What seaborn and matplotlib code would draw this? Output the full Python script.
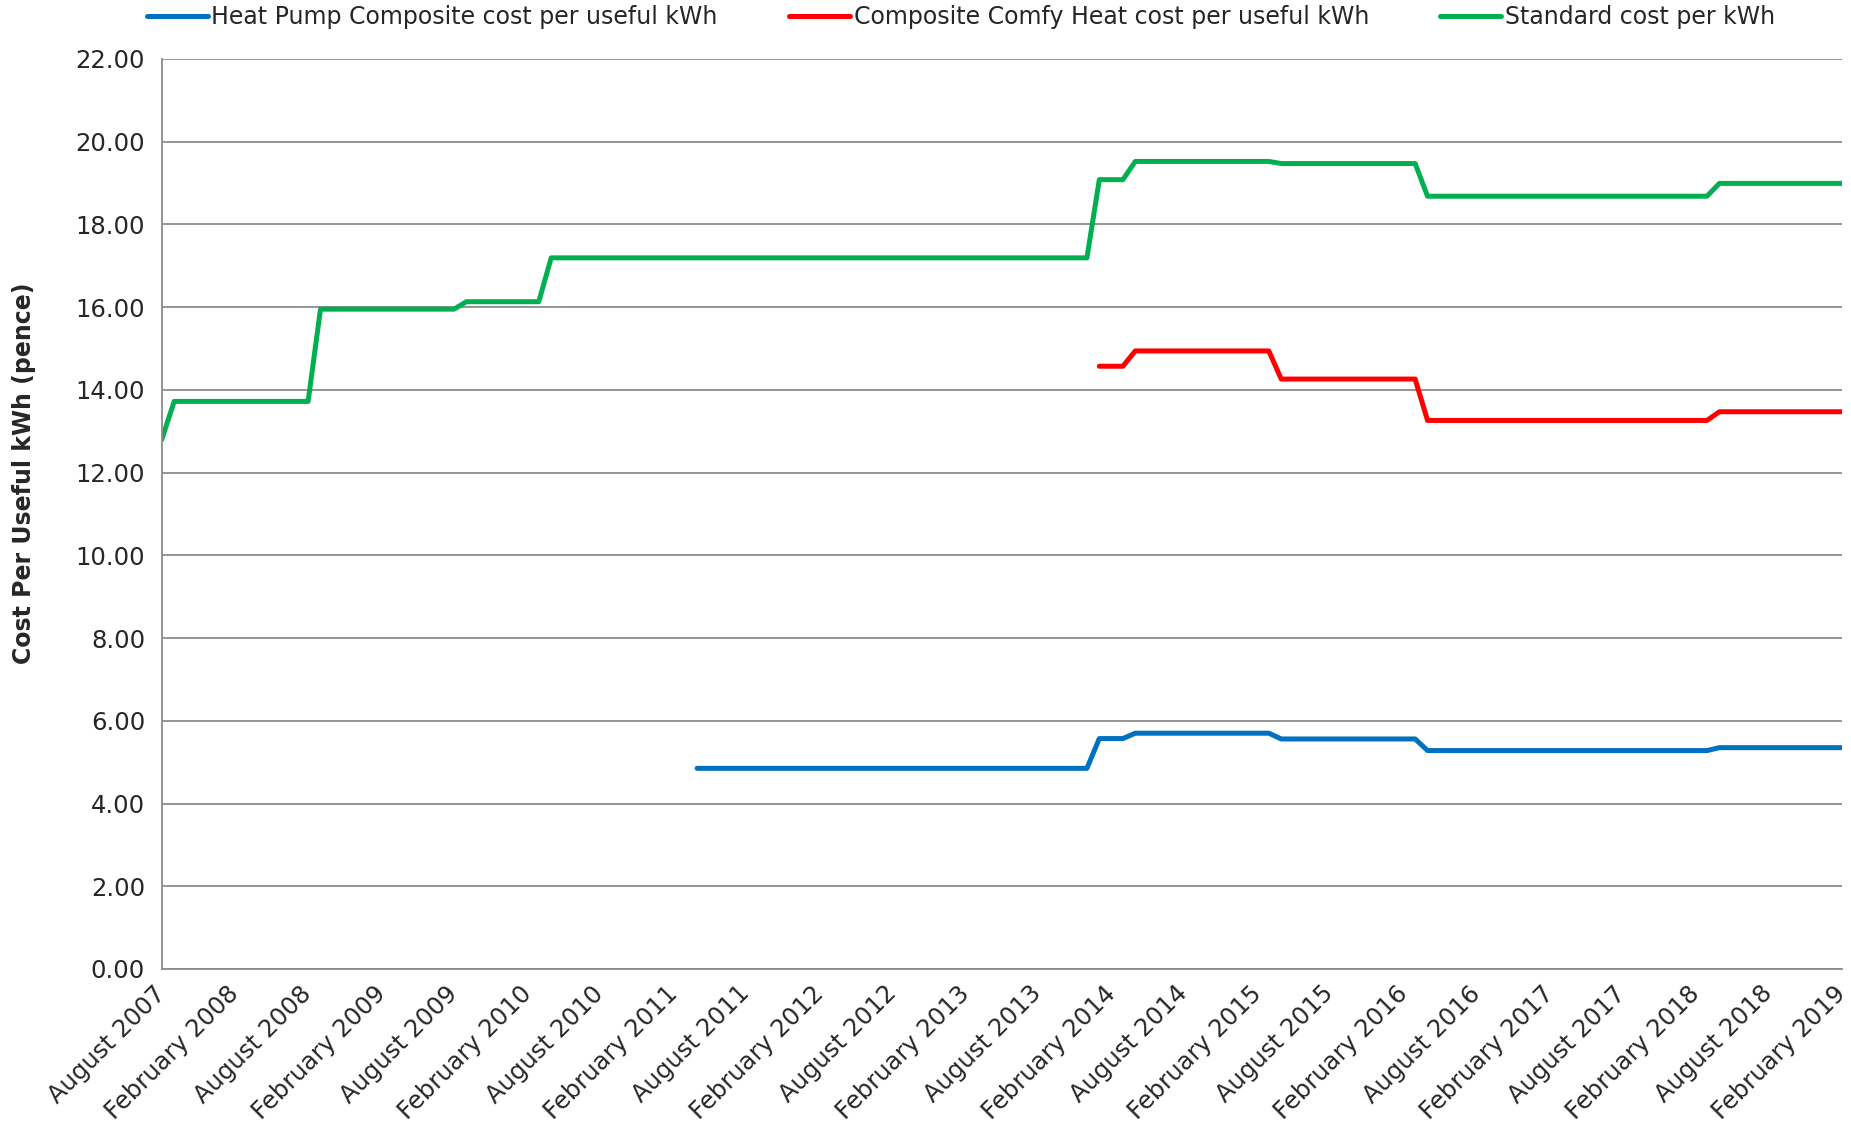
import numpy as np
import pandas as pd
import matplotlib
matplotlib.use('Agg')
import matplotlib.pyplot as plt
import matplotlib.dates as mdates
import matplotlib.transforms as mtransforms
from matplotlib.ticker import FormatStrFormatter
import seaborn as sns

na = np.nan

# monthly points, August 2007 .. February 2019
months = pd.date_range('2007-08-01', '2019-02-01', freq='MS')

standard_cost = [
    12.80, 13.72, 13.72, 13.72, 13.72,                                               # 2007 Aug-Dec
    13.72, 13.72, 13.72, 13.72, 13.72, 13.72, 13.72, 13.72, 15.95, 15.95, 15.95, 15.95,  # 2008
    15.95, 15.95, 15.95, 15.95, 15.95, 15.95, 15.95, 15.95, 16.13, 16.13, 16.13, 16.13,  # 2009
    16.13, 16.13, 16.13, 17.19, 17.19, 17.19, 17.19, 17.19, 17.19, 17.19, 17.19, 17.19,  # 2010
    17.19, 17.19, 17.19, 17.19, 17.19, 17.19, 17.19, 17.19, 17.19, 17.19, 17.19, 17.19,  # 2011
    17.19, 17.19, 17.19, 17.19, 17.19, 17.19, 17.19, 17.19, 17.19, 17.19, 17.19, 17.19,  # 2012
    17.19, 17.19, 17.19, 17.19, 17.19, 17.19, 17.19, 17.19, 17.19, 17.19, 17.19, 17.19,  # 2013
    19.08, 19.08, 19.08, 19.52, 19.52, 19.52, 19.52, 19.52, 19.52, 19.52, 19.52, 19.52,  # 2014
    19.52, 19.52, 19.52, 19.47, 19.47, 19.47, 19.47, 19.47, 19.47, 19.47, 19.47, 19.47,  # 2015
    19.47, 19.47, 19.47, 18.68, 18.68, 18.68, 18.68, 18.68, 18.68, 18.68, 18.68, 18.68,  # 2016
    18.68, 18.68, 18.68, 18.68, 18.68, 18.68, 18.68, 18.68, 18.68, 18.68, 18.68, 18.68,  # 2017
    18.68, 18.68, 18.68, 18.99, 18.99, 18.99, 18.99, 18.99, 18.99, 18.99, 18.99, 18.99,  # 2018
    18.99, 18.99,                                                                     # 2019 Jan-Feb
]

comfy_heat_cost = [
    na, na, na, na, na,
    na, na, na, na, na, na, na, na, na, na, na, na,
    na, na, na, na, na, na, na, na, na, na, na, na,
    na, na, na, na, na, na, na, na, na, na, na, na,
    na, na, na, na, na, na, na, na, na, na, na, na,
    na, na, na, na, na, na, na, na, na, na, na, na,
    na, na, na, na, na, na, na, na, na, na, na, na,
    14.57, 14.57, 14.57, 14.94, 14.94, 14.94, 14.94, 14.94, 14.94, 14.94, 14.94, 14.94,
    14.94, 14.94, 14.94, 14.26, 14.26, 14.26, 14.26, 14.26, 14.26, 14.26, 14.26, 14.26,
    14.26, 14.26, 14.26, 13.26, 13.26, 13.26, 13.26, 13.26, 13.26, 13.26, 13.26, 13.26,
    13.26, 13.26, 13.26, 13.26, 13.26, 13.26, 13.26, 13.26, 13.26, 13.26, 13.26, 13.26,
    13.26, 13.26, 13.26, 13.47, 13.47, 13.47, 13.47, 13.47, 13.47, 13.47, 13.47, 13.47,
    13.47, 13.47,
]

heat_pump_cost = [
    na, na, na, na, na,
    na, na, na, na, na, na, na, na, na, na, na, na,
    na, na, na, na, na, na, na, na, na, na, na, na,
    na, na, na, na, na, na, na, na, na, na, na, na,
    na, na, na, 4.85, 4.85, 4.85, 4.85, 4.85, 4.85, 4.85, 4.85, 4.85,
    4.85, 4.85, 4.85, 4.85, 4.85, 4.85, 4.85, 4.85, 4.85, 4.85, 4.85, 4.85,
    4.85, 4.85, 4.85, 4.85, 4.85, 4.85, 4.85, 4.85, 4.85, 4.85, 4.85, 4.85,
    5.57, 5.57, 5.57, 5.70, 5.70, 5.70, 5.70, 5.70, 5.70, 5.70, 5.70, 5.70,
    5.70, 5.70, 5.70, 5.56, 5.56, 5.56, 5.56, 5.56, 5.56, 5.56, 5.56, 5.56,
    5.56, 5.56, 5.56, 5.28, 5.28, 5.28, 5.28, 5.28, 5.28, 5.28, 5.28, 5.28,
    5.28, 5.28, 5.28, 5.28, 5.28, 5.28, 5.28, 5.28, 5.28, 5.28, 5.28, 5.28,
    5.28, 5.28, 5.28, 5.35, 5.35, 5.35, 5.35, 5.35, 5.35, 5.35, 5.35, 5.35,
    5.35, 5.35,
]

series_names = [
    'Heat Pump Composite cost per useful kWh',
    'Composite Comfy Heat cost per useful kWh',
    'Standard cost per kWh',
]
colors = ['#0070C0', '#FF0000', '#00B050']

# long form table for seaborn
df = pd.concat([
    pd.DataFrame({'month': months, 'cost': vals, 'series': name})
    for name, vals in zip(series_names, [heat_pump_cost, comfy_heat_cost, standard_cost])
])
df = df.dropna()

sns.set_style('white')
plt.rcParams['font.family'] = ['DejaVu Sans']

fig = plt.figure(figsize=(18.51, 11.32), dpi=100)
ax = fig.add_axes([0.0874, 0.144, 0.9076, 0.804])

sns.lineplot(data=df, x='month', y='cost', hue='series', hue_order=series_names,
             palette=colors, linewidth=3.6, ax=ax, legend=False)

grey = '#8c8c8c'
ax.set_xlim(months[0], months[-1])
ax.set_ylim(0, 22)
ax.set_yticks(np.arange(0, 23, 2))
ax.yaxis.set_major_formatter(FormatStrFormatter('%.2f'))
ax.grid(axis='y', color=grey, linewidth=1.3)
ax.set_axisbelow(True)

# labelled tick every six months, small tick every month
label_months = months[::6]
ax.set_xticks(label_months)
ax.set_xticklabels([m.strftime('%B %Y') for m in label_months],
                   rotation=45, ha='right', va='center', rotation_mode='anchor')
ax.xaxis.set_minor_locator(mdates.MonthLocator())

# nudge the slanted labels left so they end right at their tick
shift = mtransforms.ScaledTranslation(-6 / 72, 0, fig.dpi_scale_trans)
for lbl in ax.get_xticklabels():
    lbl.set_transform(lbl.get_transform() + shift)

for side in ['top', 'right']:
    ax.spines[side].set_visible(False)
for side in ['left', 'bottom']:
    ax.spines[side].set_color(grey)
    ax.spines[side].set_linewidth(1.3)

ax.tick_params(axis='y', which='major', direction='out', length=7, width=1.3,
               color=grey, labelsize=17.5, pad=5)
ax.tick_params(axis='x', which='both', direction='out', length=6, width=1.3,
               color=grey, labelsize=17.5, pad=9)

ax.set_xlabel('')
ax.set_ylabel('Cost Per Useful kWh (pence)', fontsize=17, fontweight='bold')
ax.yaxis.set_label_coords(-0.075, 0.545)

# legend across the top
handles = [plt.Line2D([], [], color=c, linewidth=3.6) for c in colors]
fig.legend(handles, series_names, loc='upper center', bbox_to_anchor=(0.519, 1.014),
           ncol=3, frameon=False, fontsize=17, handlelength=2.6, handletextpad=0.15,
           columnspacing=3.0)

fig.savefig('out.png', dpi=100)
